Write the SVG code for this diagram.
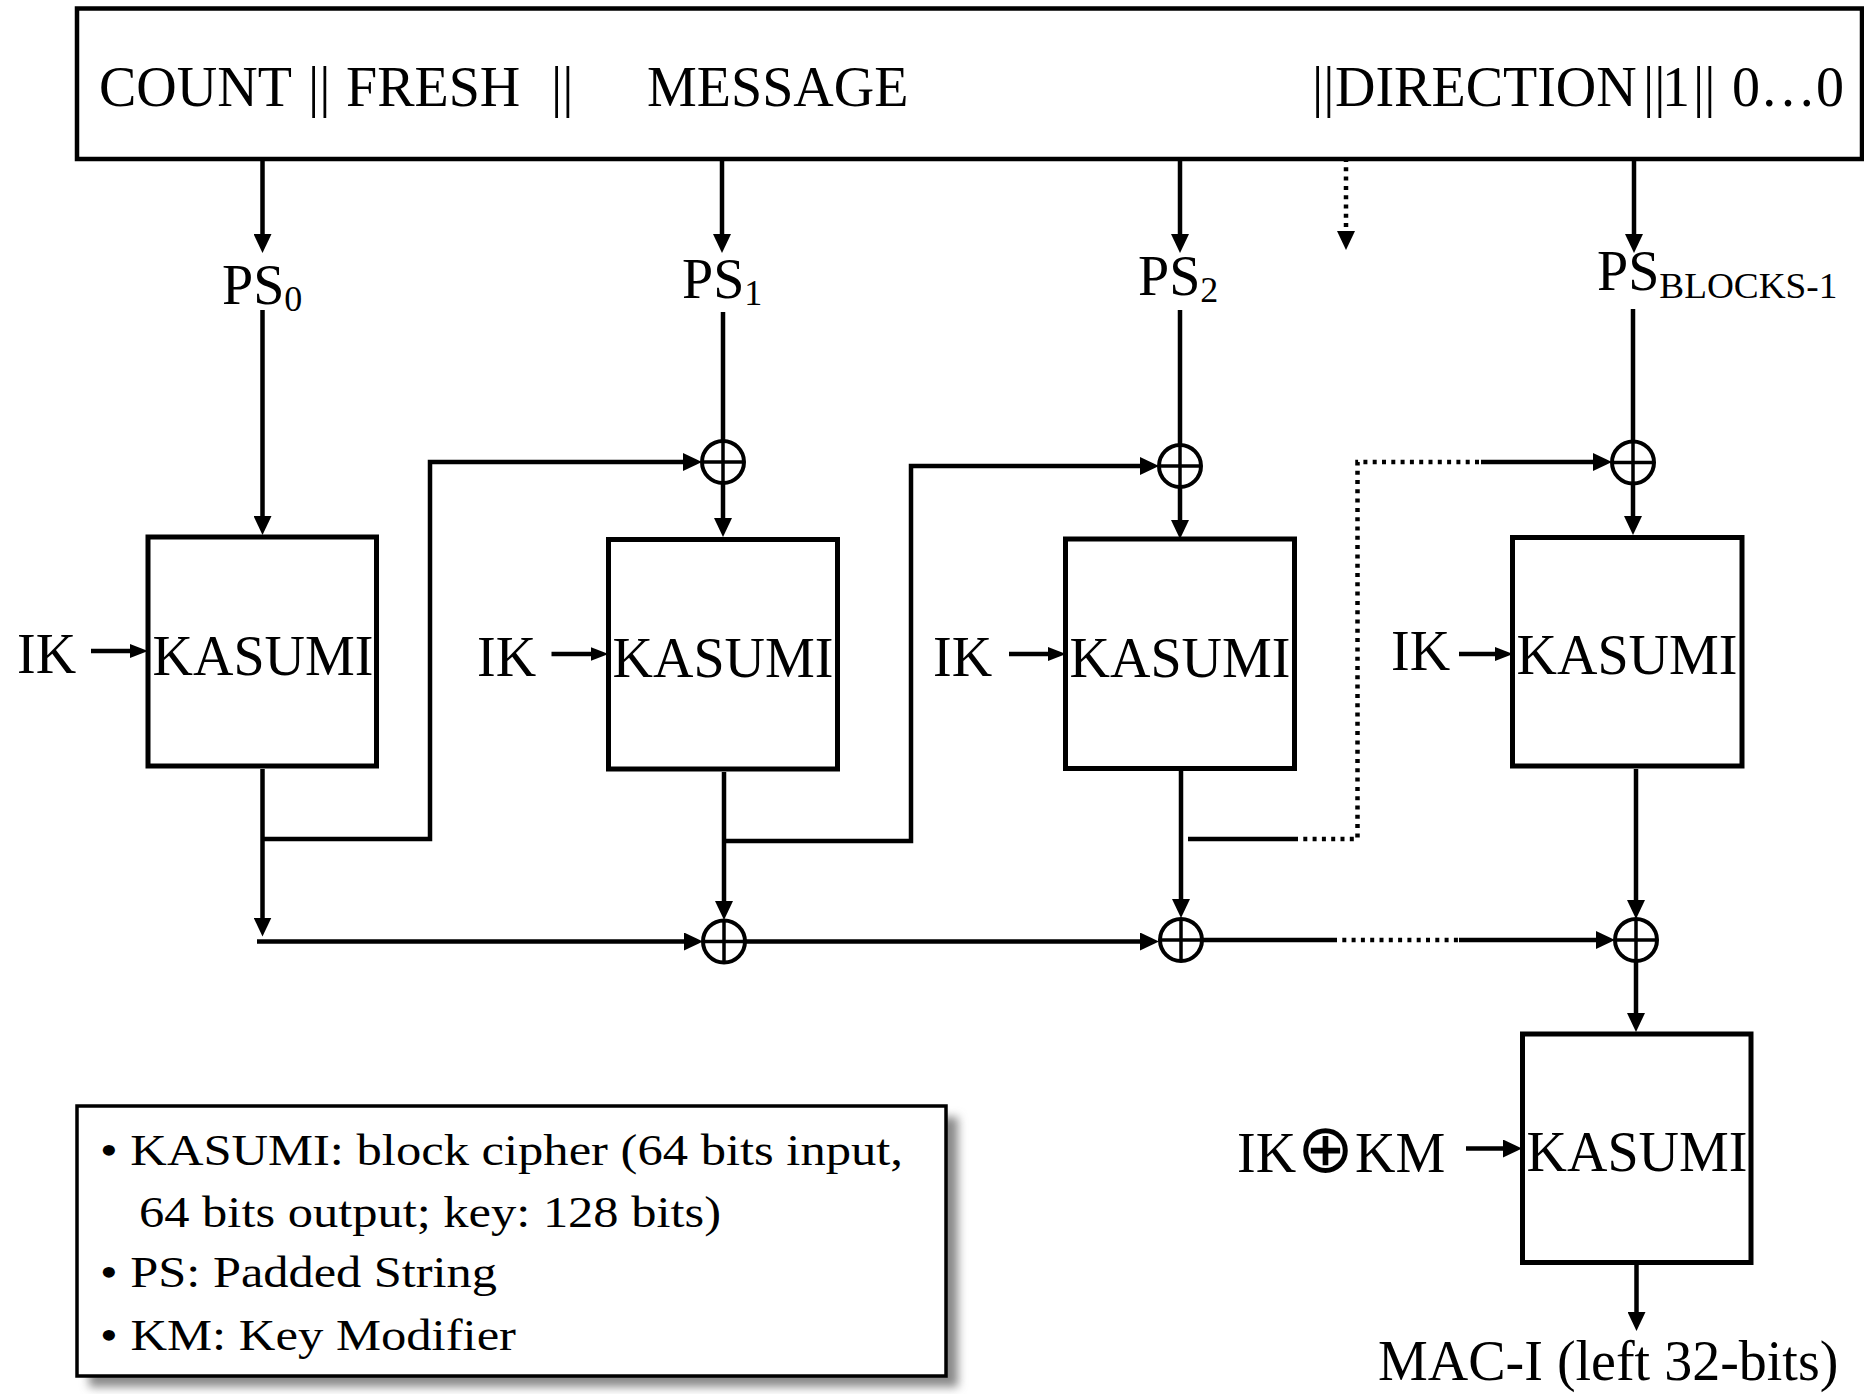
<svg xmlns="http://www.w3.org/2000/svg" width="1864" height="1394" viewBox="0 0 1864 1394">
<style>
  text { font-family: "Liberation Serif", "Times New Roman", serif; fill: #000; }
  .lbl { font-size: 56px; }
  .sub { font-size: 36px; }
  .leg { font-size: 45px; }
  .box { fill: #fff; stroke: #000; stroke-width: 5; }
  .ln { fill: none; stroke: #000; stroke-width: 4.5; }
  .dot { fill: none; stroke: #000; stroke-width: 4.5; stroke-dasharray: 4 5.3; }
  .arr { marker-end: url(#ah); }
  .arrs { marker-end: url(#ahs); }
  .xc { fill: #fff; stroke: #000; stroke-width: 4; }
  .xl { stroke: #000; stroke-width: 3.5; }
</style>
<defs>
  <marker id="ah" viewBox="0 0 19 18" refX="11" refY="9" markerWidth="19" markerHeight="18" markerUnits="userSpaceOnUse" orient="auto">
    <path d="M0,0 L19,9 L0,18 Z" fill="#000"/>
  </marker>
  <marker id="ahs" viewBox="0 0 18 14" refX="10" refY="7" markerWidth="18" markerHeight="14" markerUnits="userSpaceOnUse" orient="auto">
    <path d="M0,0 L18,7 L0,14 Z" fill="#000"/>
  </marker>
  <filter id="sh" x="-10%" y="-10%" width="130%" height="130%">
    <feGaussianBlur stdDeviation="5"/>
  </filter>
</defs>
<rect width="1864" height="1394" fill="#fff"/>

<g id="input-string">
  <rect x="77" y="8.5" width="1785" height="150.5" fill="#fff" stroke="#000" stroke-width="4.5"/>
  <text class="lbl" y="106"><tspan x="99">COUNT</tspan><tspan x="308">||</tspan><tspan x="346">FRESH</tspan><tspan x="551">||</tspan><tspan x="647">MESSAGE</tspan><tspan x="1312">||</tspan><tspan x="1335">DIRECTION</tspan><tspan x="1643">||</tspan><tspan x="1662">1</tspan><tspan x="1693">||</tspan><tspan x="1732">0…0</tspan></text>
</g>

<g id="ps-labels">
  <text class="lbl" x="222" y="304">PS<tspan class="sub" dy="7">0</tspan></text>
  <text class="lbl" x="682" y="298">PS<tspan class="sub" dy="7">1</tspan></text>
  <text class="lbl" x="1138" y="295">PS<tspan class="sub" dy="7">2</tspan></text>
  <text class="lbl" x="1597" y="290">PS<tspan class="sub" dy="8" textLength="178" lengthAdjust="spacingAndGlyphs">BLOCKS-1</tspan></text>
</g>

<g id="kasumi1">
  <rect class="box" x="148" y="537" width="228.5" height="229"/>
  <text class="lbl" x="263" y="675" text-anchor="middle">KASUMI</text>
</g>
<g id="kasumi2">
  <rect class="box" x="608.5" y="539.5" width="229" height="229.5"/>
  <text class="lbl" x="723" y="676.5" text-anchor="middle">KASUMI</text>
</g>
<g id="kasumi3">
  <rect class="box" x="1065.5" y="539" width="229" height="229.5"/>
  <text class="lbl" x="1180" y="676.5" text-anchor="middle">KASUMI</text>
</g>
<g id="kasumi4">
  <rect class="box" x="1512.5" y="537.5" width="229.5" height="228.5"/>
  <text class="lbl" x="1627" y="674" text-anchor="middle">KASUMI</text>
</g>
<g id="kasumi5">
  <rect class="box" x="1522.5" y="1034" width="228.5" height="228.5"/>
  <text class="lbl" x="1637" y="1171" text-anchor="middle">KASUMI</text>
</g>

<g id="ik-labels">
  <text class="lbl" x="17" y="673">IK</text>
  <text class="lbl" x="477" y="676">IK</text>
  <text class="lbl" x="933" y="676">IK</text>
  <text class="lbl" x="1391" y="670">IK</text>
</g>
<g id="ik-km">
  <text class="lbl" x="1237" y="1172">IK<tspan font-family="DejaVu Sans, sans-serif" font-size="68" dx="1">⊕</tspan><tspan x="1355">KM</tspan></text>
</g>

<g id="xor-top1"><circle class="xc" cx="723" cy="462" r="21"/><path class="xl" d="M702,462 H744 M723,441 V483"/></g>
<g id="xor-top2"><circle class="xc" cx="1180" cy="466" r="21"/><path class="xl" d="M1159,466 H1201 M1180,445 V487"/></g>
<g id="xor-top4"><circle class="xc" cx="1633" cy="462.5" r="21"/><path class="xl" d="M1612,462.5 H1654 M1633,441.5 V483.5"/></g>
<g id="xor-bot1"><circle class="xc" cx="724" cy="941.5" r="21"/><path class="xl" d="M703,941.5 H745 M724,920.5 V962.5"/></g>
<g id="xor-bot2"><circle class="xc" cx="1181" cy="940" r="21"/><path class="xl" d="M1160,940 H1202 M1181,919 V961"/></g>
<g id="xor-bot3"><circle class="xc" cx="1636" cy="940" r="21"/><path class="xl" d="M1615,940 H1657 M1636,919 V961"/></g>

<g id="legend">
  <rect x="89" y="1117" width="869" height="270" fill="#8a8a8a" filter="url(#sh)"/>
  <rect x="77" y="1106" width="869" height="270" fill="#fff" stroke="#000" stroke-width="3.5"/>
  <text class="leg" x="100" y="1165" textLength="803" lengthAdjust="spacingAndGlyphs">• KASUMI: block cipher (64 bits input,</text>
  <text class="leg" x="139" y="1227" textLength="582" lengthAdjust="spacingAndGlyphs">64 bits output; key: 128 bits)</text>
  <text class="leg" x="100" y="1287" textLength="397" lengthAdjust="spacingAndGlyphs">• PS: Padded String</text>
  <text class="leg" x="100" y="1350" textLength="416" lengthAdjust="spacingAndGlyphs">• KM: Key Modifier</text>
</g>

<g id="output-label">
  <text class="lbl" x="1378" y="1380">MAC-I (left 32-bits)</text>
</g>

<g id="connectors">
  <path class="ln arr" d="M262.5,161 V245"/>
  <path class="ln arr" d="M722,161 V245"/>
  <path class="ln arr" d="M1180,161 V245"/>
  <path class="dot arr" d="M1346,158 V242"/>
  <path class="ln arr" d="M1634,161 V245"/>

  <path class="ln arr" d="M262.5,310 V527"/>
  <path class="ln" d="M723,312 V441"/>
  <path class="ln" d="M1180,310 V445"/>
  <path class="ln" d="M1633,309 V441.5"/>

  <path class="ln arr" d="M723,483 V529"/>
  <path class="ln arr" d="M1180,487 V531"/>
  <path class="ln arr" d="M1633,483.5 V527"/>

  <path class="ln arr" d="M262.5,839 H430 V462 H694"/>
  <path class="ln arr" d="M724,841 H911 V466 H1151"/>
  <path class="ln" d="M1188,839 H1294"/>
  <path class="dot" d="M1294,839 H1357.5 V462 H1481"/>
  <path class="ln arr" d="M1481,462 H1604"/>

  <path class="ln arr" d="M262.5,769 V928.5"/>
  <path class="ln arr" d="M257,941.5 H695"/>
  <path class="ln arr" d="M724,772 V912"/>
  <path class="ln arr" d="M745,941.5 H1151"/>
  <path class="ln arr" d="M1181,771 V910"/>
  <path class="ln" d="M1202,940 H1333"/>
  <path class="dot" d="M1333,940 H1459"/>
  <path class="ln arr" d="M1459,940 H1607"/>
  <path class="ln arr" d="M1636,769 V911"/>
  <path class="ln arr" d="M1636,961 V1024"/>
  <path class="ln arr" d="M1636.5,1265 V1323"/>

  <path class="ln arrs" d="M91,651 H140"/>
  <path class="ln arrs" d="M551.5,654 H600.5"/>
  <path class="ln arrs" d="M1009,654 H1058"/>
  <path class="ln arrs" d="M1459,654 H1505"/>
  <path class="ln arr" d="M1466,1148.5 H1514"/>
</g>
</svg>
